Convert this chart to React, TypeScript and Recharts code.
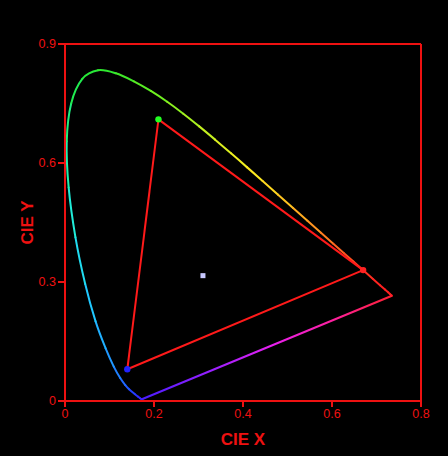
import React from 'react';
import {
  ComposedChart,
  XAxis,
  YAxis,
  Scatter,
  Line,
  ReferenceLine,
  Label,
} from 'recharts';

// CIE 1931 spectral locus (chromaticity x, y) by wavelength (nm)
const wavelengths = [380, 400, 420, 430, 440, 450, 460, 465, 470, 475, 480, 485, 490, 495, 500, 505, 510, 515, 520, 525, 530, 535, 540, 545, 550, 555, 560, 565, 570, 575, 580, 585, 590, 595, 600, 605, 610, 620, 630, 640, 650, 660, 680, 700];
const locusX = [0.1741, 0.1733, 0.1714, 0.1689, 0.1644, 0.1566, 0.144, 0.1355, 0.1241, 0.1096, 0.0913, 0.0687, 0.0454, 0.0235, 0.0082, 0.0039, 0.0139, 0.0389, 0.0743, 0.1142, 0.1547, 0.1929, 0.2296, 0.2658, 0.3016, 0.3373, 0.3731, 0.4087, 0.4441, 0.4788, 0.5125, 0.5448, 0.5752, 0.6029, 0.627, 0.6482, 0.6658, 0.6915, 0.7079, 0.719, 0.726, 0.73, 0.7334, 0.7347];
const locusY = [0.005, 0.0048, 0.0051, 0.0069, 0.0109, 0.0177, 0.0297, 0.0399, 0.0578, 0.0868, 0.1327, 0.2007, 0.295, 0.4127, 0.5384, 0.6548, 0.7502, 0.812, 0.8338, 0.8262, 0.8059, 0.7816, 0.7543, 0.7243, 0.6923, 0.6589, 0.6245, 0.5896, 0.5547, 0.5202, 0.4866, 0.4544, 0.4242, 0.3965, 0.3725, 0.3514, 0.334, 0.3083, 0.292, 0.2809, 0.274, 0.27, 0.2666, 0.2653];
const locusColors = ['#4a1cff', '#4420ff', '#3c22ff', '#3426ff', '#2c30ff', '#2440ff', '#2058ff', '#2068ff', '#2080ff', '#2098ff', '#20b0ff', '#20c8ff', '#20dcf0', '#20ecd8', '#20f0b0', '#20f080', '#20ec50', '#28e838', '#30e830', '#40e828', '#58ec24', '#70f020', '#8cf020', '#a8f020', '#c4f020', '#dcf020', '#f0f020', '#fce820', '#ffd820', '#ffc420', '#ffac20', '#ff9420', '#ff7c20', '#ff6420', '#ff5020', '#ff4020', '#ff3020', '#ff2420', '#ff2020', '#ff2020', '#ff2020', '#ff2020', '#ff2020', '#ff2020'];

// NTSC primaries and white point (Illuminant C)
const primaryNames = ['Green', 'Red', 'Blue'];
const primaryX = [0.21, 0.67, 0.14];
const primaryY = [0.71, 0.33, 0.08];
const whiteX = 0.31;
const whiteY = 0.316;

const xTicks = [0, 0.2, 0.4, 0.6, 0.8];
const yTicks = [0, 0.3, 0.6, 0.9];

const RED = '#ff1a1a';
const AXIS = '#ee1111';
const FONT = '"Liberation Sans", Arial, sans-serif';

const primaryColors = ['#22ff22', '#ff2222', '#2222ff'];

// Curve factory: draws only the middle piece (p1 -> p2) of a Catmull-Rom
// spline through four scaled points, so each colored piece joins smoothly.
const middleCatmull = (context: any) => {
  let pts: number[][] = [];
  return {
    areaStart() {},
    areaEnd() {},
    lineStart() {
      pts = [];
    },
    point(x: number, y: number) {
      pts.push([+x, +y]);
    },
    lineEnd() {
      if (pts.length < 4) return;
      const [p0, p1, p2, p3] = pts;
      const c1x = p1[0] + (p2[0] - p0[0]) / 6;
      const c1y = p1[1] + (p2[1] - p0[1]) / 6;
      const c2x = p2[0] - (p3[0] - p1[0]) / 6;
      const c2y = p2[1] - (p3[1] - p1[1]) / 6;
      context.moveTo(p1[0], p1[1]);
      context.bezierCurveTo(c1x, c1y, c2x, c2y, p2[0], p2[1]);
    },
  };
};

const dot = (r: number) => (props: any) => {
  const { cx, cy, fill } = props;
  if (cx == null || cy == null) return <g />;
  return <circle cx={cx} cy={cy} r={r} fill={fill} />;
};

const whiteShape = (props: any) => {
  const { cx, cy } = props;
  if (cx == null || cy == null) return <g />;
  return <rect x={cx - 2.5} y={cy - 2.5} width={5} height={5} fill="#c8c8ff" />;
};

export default function App() {
  const n = locusX.length;
  const pt = (i: number) => {
    const k = Math.max(0, Math.min(n - 1, i));
    return { x: locusX[k], y: locusY[k] };
  };
  const pieces = locusX.slice(0, -1).map((_, i) => ({
    key: `seg-${wavelengths[i]}`,
    data: [pt(i - 1), pt(i), pt(i + 1), pt(i + 2)],
    color: locusColors[i],
  }));
  const tri = [0, 1, 2].map((i) => ({
    key: `tri-${primaryNames[i]}`,
    p1: { x: primaryX[i], y: primaryY[i] },
    p2: { x: primaryX[(i + 1) % 3], y: primaryY[(i + 1) % 3] },
  }));
  const last = n - 1;

  return (
    <div style={{ position: 'absolute', left: 0, top: 0, width: 448, height: 456, background: '#000' }}>
      <svg width={0} height={0} style={{ position: 'absolute' }}>
        <defs>
          <linearGradient id="purpleLine" x1="0" y1="0" x2="1" y2="0">
            <stop offset="0%" stopColor="#4a1cff" />
            <stop offset="28%" stopColor="#9a20ff" />
            <stop offset="52%" stopColor="#e820f0" />
            <stop offset="78%" stopColor="#ff2098" />
            <stop offset="100%" stopColor="#ff2030" />
          </linearGradient>
        </defs>
      </svg>
      <ComposedChart
        width={448}
        height={456}
        margin={{ top: 44, right: 27, left: 15, bottom: 0 }}
      >
        <XAxis
          type="number"
          dataKey="x"
          domain={[0, 0.8]}
          ticks={xTicks}
          allowDataOverflow
          height={55}
          stroke={AXIS}
          strokeWidth={2}
          tickSize={6}
          tick={{ fill: AXIS, fontSize: 12.5, fontFamily: FONT }}
        >
          <Label value="CIE X" position="insideBottom" offset={11} fill={AXIS} style={{ fontSize: 17, fontWeight: 'bold', fontFamily: FONT }} />
        </XAxis>
        <YAxis
          type="number"
          dataKey="y"
          domain={[0, 0.9]}
          ticks={yTicks}
          allowDataOverflow
          width={50}
          stroke={AXIS}
          strokeWidth={2}
          tickSize={7}
          tick={{ fill: AXIS, fontSize: 12.5, fontFamily: FONT }}
        >
          <Label value="CIE Y" angle={-90} position="insideLeft" offset={12} fill={AXIS} style={{ fontSize: 17, fontWeight: 'bold', fontFamily: FONT, textAnchor: 'middle' }} />
        </YAxis>
        <ReferenceLine y={0.9} stroke={AXIS} strokeWidth={2} />
        <ReferenceLine x={0.8} stroke={AXIS} strokeWidth={2} />
        {pieces.map((p) => (
          <Line
            key={p.key}
            data={p.data}
            dataKey="y"
            type={middleCatmull as any}
            stroke={p.color}
            strokeWidth={2}
            strokeLinecap="round"
            dot={false}
            activeDot={false}
            isAnimationActive={false}
            legendType="none"
          />
        ))}
        <ReferenceLine
          segment={[{ x: locusX[0], y: locusY[0] }, { x: locusX[last], y: locusY[last] }]}
          stroke="url(#purpleLine)"
          strokeWidth={2}
          ifOverflow="visible"
        />
        {tri.map((s) => (
          <ReferenceLine key={s.key} segment={[s.p1, s.p2]} stroke={RED} strokeWidth={2} ifOverflow="visible" />
        ))}
        {primaryNames.map((nm, i) => (
          <Scatter
            key={nm}
            name={nm}
            data={[{ x: primaryX[i], y: primaryY[i] }]}
            fill={primaryColors[i]}
            shape={dot(3.2)}
            isAnimationActive={false}
          />
        ))}
        <Scatter
          name="White"
          data={[{ x: whiteX, y: whiteY }]}
          fill="#c8c8ff"
          shape={whiteShape}
          isAnimationActive={false}
        />
      </ComposedChart>
    </div>
  );
}
